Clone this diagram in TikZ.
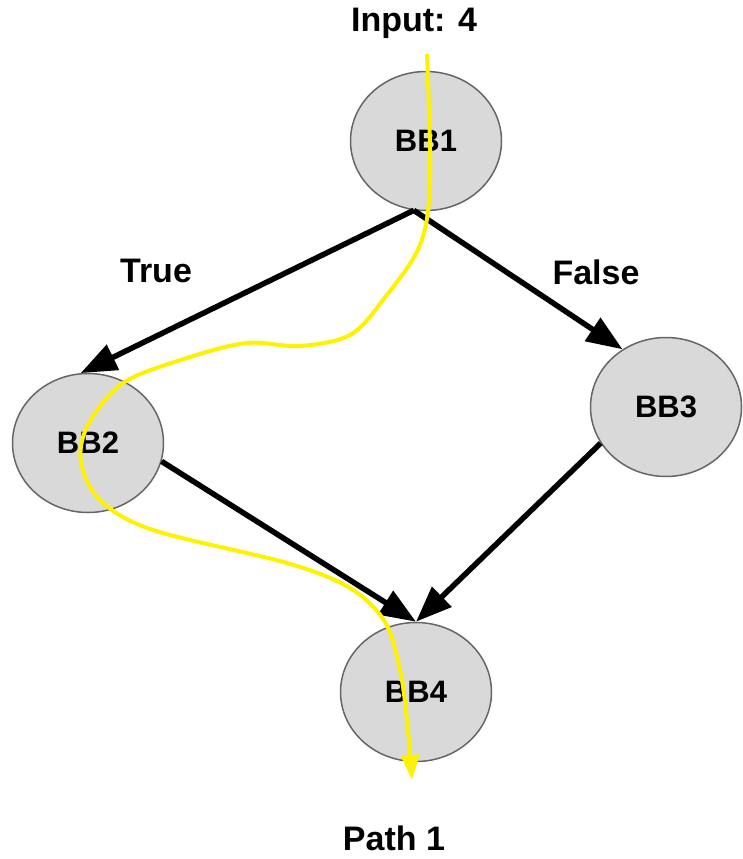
\documentclass[tikz,border=0pt]{standalone}
\usepackage{fontspec}
\setmainfont{Liberation Sans}
\usetikzlibrary{arrows.meta,shapes.geometric}
\definecolor{bbfill}{HTML}{D9D9D9}
\definecolor{bbline}{HTML}{666666}
\tikzset{
  bb/.style={ellipse, draw=bbline, fill=bbfill, line width=1.5pt,
    minimum width=151pt, minimum height=139pt, inner sep=0pt,
    font=\fontsize{31}{37}\selectfont\bfseries},
  lbl/.style={inner sep=0pt, font=\fontsize{34}{40}\selectfont\bfseries},
  edge/.style={line width=5.5pt, -{Triangle[length=36pt,width=27pt]}},
  trace/.style={line width=4pt, draw=yellow,
    -{Triangle[length=25pt,width=18pt,fill=yellow]}}
}
\begin{document}
\begin{tikzpicture}[x=1pt,y=-1pt]
  \useasboundingbox (0,0) rectangle (743,859);

  % basic blocks
  \node[bb] (bb1) at (426,141) {BB1};
  \node[bb] (bb2) at (88,443)  {BB2};
  \node[bb] (bb3) at (666,407) {BB3};
  \node[bb] (bb4) at (416,692) {BB4};

  % labels
  \node[lbl] (input) at (414,23)  {Input: 4};
  \node[lbl] (tlbl)  at (156,271) {True};
  \node[lbl] (flbl)  at (596,272) {False};
  \node[lbl] (path)  at (394,838) {Path 1};

  % control-flow edges
  \draw[edge] (bb1.260) -- (bb2.96);
  \draw[edge] (bb1.260) -- (bb3.127);
  \draw[edge] (bb2.-14) -- (bb4.north);
  \draw[edge] (bb3.209) -- (bb4.north);

  % execution trace for input 4
  \coordinate (tstart) at (427,54);
  \coordinate (tend) at (412,780);
  \draw[trace] plot[smooth, tension=0.55] coordinates {
    (tstart) (430,180) (420,245) (383,300) (350,335) (300,346)
    (247,343) (187,358) (123,383) (88,425) (81,462) (100,500)
    (153,530) (287,563) (350,588) (385,622) (400,670) (407,720)
    (tend)};
\end{tikzpicture}
\end{document}
